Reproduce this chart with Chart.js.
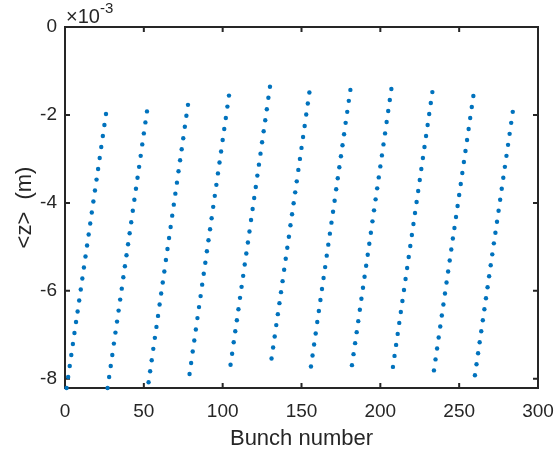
<!DOCTYPE html>
<html><head><meta charset="utf-8">
<script src="https://cdn.jsdelivr.net/npm/chart.js@4.4.1/dist/chart.umd.min.js"></script>
<style>html,body{margin:0;padding:0;background:#fff}#wrap{width:560px;height:453px}</style>
</head><body><div id="wrap"><canvas id="c" width="560" height="453"></canvas></div>
<script>
// First bunch number of each train (consecutive bunches within a train)
const groupStart = [1, 27, 53, 79, 105, 131, 156, 182, 208, 234, 260];
// <z> values in units of 10^-3 m
const z1 = [-8.21,-7.96,-7.71,-7.46,-7.21,-6.96,-6.71,-6.47,-6.22,-5.97,-5.72,-5.47,-5.22,-4.97,-4.72,-4.47,-4.22,-3.97,-3.72,-3.47,-3.23,-2.98,-2.73,-2.48,-2.23,-1.98];
const z2 = [-8.21,-7.96,-7.71,-7.46,-7.20,-6.95,-6.70,-6.45,-6.20,-5.95,-5.69,-5.44,-5.19,-4.94,-4.69,-4.44,-4.18,-3.93,-3.68,-3.43,-3.18,-2.93,-2.67,-2.42,-2.17,-1.92];
const z3 = [-8.08,-7.83,-7.58,-7.32,-7.07,-6.82,-6.57,-6.31,-6.06,-5.81,-5.56,-5.30,-5.05,-4.80,-4.55,-4.29,-4.04,-3.79,-3.54,-3.28,-3.03,-2.78,-2.53,-2.27,-2.02,-1.77];
const z4 = [-7.89,-7.64,-7.38,-7.13,-6.88,-6.62,-6.37,-6.12,-5.86,-5.61,-5.36,-5.10,-4.85,-4.60,-4.35,-4.09,-3.84,-3.59,-3.33,-3.08,-2.83,-2.57,-2.32,-2.07,-1.81,-1.56];
const z5 = [-7.68,-7.43,-7.17,-6.92,-6.67,-6.42,-6.16,-5.91,-5.66,-5.40,-5.15,-4.90,-4.65,-4.39,-4.14,-3.89,-3.64,-3.38,-3.13,-2.88,-2.62,-2.37,-2.12,-1.87,-1.61,-1.36];
const z6 = [-7.54,-7.29,-7.04,-6.78,-6.53,-6.28,-6.03,-5.78,-5.52,-5.27,-5.02,-4.77,-4.51,-4.26,-4.01,-3.76,-3.51,-3.25,-3.00,-2.75,-2.50,-2.25,-1.99,-1.74,-1.49];
const z7 = [-7.72,-7.47,-7.22,-6.97,-6.71,-6.46,-6.21,-5.96,-5.71,-5.46,-5.20,-4.95,-4.70,-4.45,-4.20,-3.95,-3.69,-3.44,-3.19,-2.94,-2.69,-2.44,-2.18,-1.93,-1.68,-1.43];
const z8 = [-7.69,-7.44,-7.19,-6.94,-6.69,-6.43,-6.18,-5.93,-5.68,-5.43,-5.18,-4.93,-4.68,-4.42,-4.17,-3.92,-3.67,-3.42,-3.17,-2.92,-2.67,-2.42,-2.16,-1.91,-1.66,-1.41];
const z9 = [-7.73,-7.48,-7.23,-6.98,-6.73,-6.48,-6.23,-5.98,-5.73,-5.48,-5.23,-4.98,-4.73,-4.48,-4.23,-3.98,-3.73,-3.48,-3.23,-2.98,-2.73,-2.48,-2.23,-1.98,-1.73,-1.48];
const z10 = [-7.81,-7.56,-7.31,-7.06,-6.81,-6.56,-6.31,-6.06,-5.81,-5.56,-5.31,-5.06,-4.81,-4.57,-4.32,-4.07,-3.82,-3.57,-3.32,-3.07,-2.82,-2.57,-2.32,-2.07,-1.82,-1.57];
const z11 = [-7.92,-7.67,-7.42,-7.17,-6.92,-6.67,-6.42,-6.17,-5.92,-5.67,-5.42,-5.17,-4.92,-4.68,-4.43,-4.18,-3.93,-3.68,-3.43,-3.18,-2.93,-2.68,-2.43,-2.18,-1.93];
const zGroups = [z1, z2, z3, z4, z5, z6, z7, z8, z9, z10, z11];

const xTicks = [0, 50, 100, 150, 200, 250, 300];
const yTicks = [-8, -6, -4, -2, 0];
const xRange = [0, 300];
const yRange = [-8.21, 0];
const yExponent = -3;
const xLabel = 'Bunch number';
const yLabel = '<z>  (m)';

const points = [];
zGroups.forEach((g, gi) => g.forEach((v, i) => points.push({ x: groupStart[gi] + i, y: v })));

const FONT = '"Liberation Sans", Arial, Helvetica, sans-serif';
const AX = '#262626';

const boxPlugin = {
  id: 'matlabBox',
  beforeDatasetsDraw(chart) {
    const { ctx, chartArea: a, scales: { x, y } } = chart;
    ctx.save();
    ctx.strokeStyle = AX;
    ctx.lineWidth = 2;
    ctx.strokeRect(a.left, a.top, a.right - a.left, a.bottom - a.top);
    const L = 5;
    ctx.beginPath();
    x.ticks.forEach(t => {
      const p = x.getPixelForValue(t.value);
      ctx.moveTo(p, a.bottom); ctx.lineTo(p, a.bottom - L);
      ctx.moveTo(p, a.top); ctx.lineTo(p, a.top + L);
    });
    y.ticks.forEach(t => {
      const p = y.getPixelForValue(t.value);
      ctx.moveTo(a.left, p); ctx.lineTo(a.left + L, p);
      ctx.moveTo(a.right, p); ctx.lineTo(a.right - L, p);
    });
    ctx.stroke();
    ctx.fillStyle = AX;
    ctx.textAlign = 'left';
    ctx.textBaseline = 'alphabetic';
    ctx.font = '20px ' + FONT;
    ctx.fillText('\u00d710', a.left + 1, 23);
    const w = ctx.measureText('\u00d710').width;
    ctx.font = '15px ' + FONT;
    ctx.fillText(String(yExponent), a.left + 1 + w, 13);
    ctx.restore();
  }
};

new Chart(document.getElementById('c'), {
  type: 'scatter',
  data: {
    datasets: [{
      data: points,
      backgroundColor: '#0072BD',
      borderWidth: 0,
      pointRadius: 2.2,
      pointHoverRadius: 2.2,
      clip: false
    }]
  },
  options: {
    responsive: false,
    devicePixelRatio: 1,
    animation: false,
    events: [],
    layout: { padding: { left: 0, right: 22, top: 27, bottom: 0 } },
    plugins: { legend: { display: false }, tooltip: { enabled: false } },
    scales: {
      x: {
        type: 'linear', min: xRange[0], max: xRange[1],
        afterBuildTicks: s => { s.ticks = xTicks.map(v => ({ value: v })); },
        afterFit: s => { s.height = 65; s.paddingLeft = 0; s.paddingRight = 0; },
        grid: { display: false, drawTicks: false },
        border: { display: false },
        ticks: { font: { family: FONT, size: 19 }, color: AX, padding: 12, maxRotation: 0, autoSkip: false, callback: v => String(v) },
        title: { display: true, text: xLabel, color: AX, font: { family: FONT, size: 22 }, padding: { top: 0, bottom: 1 } }
      },
      y: {
        type: 'linear', min: yRange[0], max: yRange[1],
        afterBuildTicks: s => { s.ticks = yTicks.map(v => ({ value: v })); },
        afterFit: s => { s.width = 65; s.paddingTop = 0; s.paddingBottom = 0; },
        grid: { display: false, drawTicks: false },
        border: { display: false },
        ticks: { font: { family: FONT, size: 19 }, color: AX, padding: 8, autoSkip: false, callback: v => String(v) },
        title: { display: true, text: yLabel, color: AX, font: { family: FONT, size: 22 }, padding: { top: 12, bottom: 0 } }
      }
    }
  },
  plugins: [boxPlugin]
});
</script>
</body></html>
